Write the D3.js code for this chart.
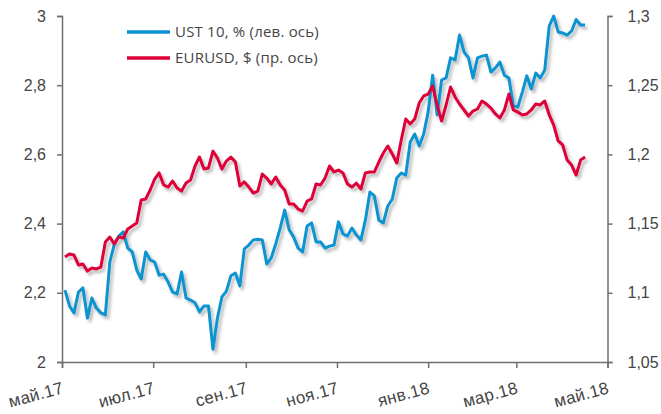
<!DOCTYPE html>
<html>
<head>
<meta charset="utf-8">
<script src="https://cdn.jsdelivr.net/npm/d3@7"></script>
<style>
  html, body { margin: 0; padding: 0; background: #fff; }
  svg { display: block; font-family: "Open Sans", "Noto Sans", sans-serif; }
</style>
</head>
<body>
<div id="chart"></div>
<script>
// UST 10 vs EURUSD, May 2017 - May 2018

const dates = [
  '2017-05-03','2017-05-06','2017-05-09','2017-05-12','2017-05-15','2017-05-18','2017-05-21','2017-05-24','2017-05-27','2017-05-30',
  '2017-06-02','2017-06-05','2017-06-08','2017-06-11','2017-06-14','2017-06-17','2017-06-20','2017-06-23','2017-06-26','2017-06-29',
  '2017-07-02','2017-07-05','2017-07-08','2017-07-11','2017-07-14','2017-07-17','2017-07-20','2017-07-23','2017-07-26','2017-07-29',
  '2017-08-01','2017-08-04','2017-08-07','2017-08-10','2017-08-13','2017-08-16','2017-08-19','2017-08-22','2017-08-25','2017-08-28','2017-08-31',
  '2017-09-03','2017-09-06','2017-09-09','2017-09-12','2017-09-15','2017-09-18','2017-09-21','2017-09-24','2017-09-27','2017-09-30',
  '2017-10-03','2017-10-06','2017-10-09','2017-10-12','2017-10-15','2017-10-18','2017-10-21','2017-10-24','2017-10-27','2017-10-30',
  '2017-11-02','2017-11-05','2017-11-08','2017-11-11','2017-11-14','2017-11-17','2017-11-20','2017-11-23','2017-11-26','2017-11-29',
  '2017-12-02','2017-12-05','2017-12-08','2017-12-11','2017-12-14','2017-12-17','2017-12-20','2017-12-23','2017-12-26','2017-12-29',
  '2018-01-01','2018-01-04','2018-01-07','2018-01-10','2018-01-13','2018-01-16','2018-01-19','2018-01-22','2018-01-25','2018-01-28','2018-01-31',
  '2018-02-03','2018-02-06','2018-02-09','2018-02-12','2018-02-15','2018-02-18','2018-02-21','2018-02-24','2018-02-27',
  '2018-03-02','2018-03-05','2018-03-08','2018-03-11','2018-03-14','2018-03-17','2018-03-20','2018-03-23','2018-03-26','2018-03-29',
  '2018-04-01','2018-04-04','2018-04-07','2018-04-10','2018-04-13','2018-04-16'
];

// UST 10, % (left axis)
const ust10 = [
  2.208, 2.162, 2.142, 2.202, 2.214, 2.127, 2.185, 2.156, 2.142, 2.136,
  2.289, 2.341, 2.364, 2.376, 2.329, 2.318, 2.266, 2.240, 2.318, 2.295,
  2.289, 2.251, 2.254, 2.231, 2.202, 2.197, 2.260, 2.185, 2.179, 2.171,
  2.145, 2.162, 2.162, 2.037, 2.127, 2.188, 2.205, 2.249, 2.257, 2.220, 2.327,
  2.338, 2.353, 2.355, 2.353, 2.283, 2.301, 2.341, 2.387, 2.439, 2.382,
  2.361, 2.329, 2.318, 2.393, 2.402, 2.347, 2.347, 2.329, 2.335, 2.338,
  2.405, 2.370, 2.364, 2.387, 2.367, 2.353, 2.410, 2.491, 2.480, 2.410,
  2.402, 2.451, 2.471, 2.532, 2.546, 2.540, 2.636, 2.659, 2.624, 2.659,
  2.723, 2.829, 2.714, 2.815, 2.821, 2.879, 2.873, 2.945, 2.896, 2.879, 2.821,
  2.879, 2.884, 2.887, 2.838, 2.850, 2.867, 2.829, 2.821, 2.740,
  2.737, 2.780, 2.827, 2.789, 2.835, 2.821, 2.844, 2.971, 3.000, 2.954,
  2.951, 2.945, 2.957, 2.990, 2.974, 2.974
];

// EURUSD, $ (right axis)
const eurusd = [
  1.1259, 1.1280, 1.1273, 1.1201, 1.1208, 1.1157, 1.1179, 1.1172, 1.1186, 1.1367,
  1.1403, 1.1353, 1.1403, 1.1396, 1.1461, 1.1483, 1.1504, 1.1670, 1.1678, 1.1743,
  1.1822, 1.1866, 1.1779, 1.1764, 1.1808, 1.1757, 1.1735, 1.1793, 1.1815, 1.1916,
  1.1981, 1.1894, 1.1902, 1.2024, 1.1974, 1.1894, 1.1952, 1.1981, 1.1945, 1.1772, 1.1801,
  1.1764, 1.1721, 1.1735, 1.1858, 1.1829, 1.1786, 1.1837, 1.1779, 1.1743, 1.1642,
  1.1642, 1.1605, 1.1591, 1.1663, 1.1678, 1.1786, 1.1779, 1.1829, 1.1916, 1.1873,
  1.1887, 1.1866, 1.1786, 1.1764, 1.1793, 1.1750, 1.1866, 1.1873, 1.1873, 1.1945,
  1.2010, 1.2061, 1.2003, 1.1938, 1.2104, 1.2256, 1.2220, 1.2256, 1.2371, 1.2422,
  1.2436, 1.2494, 1.2357, 1.2241, 1.2357, 1.2487, 1.2415, 1.2364, 1.2321, 1.2277, 1.2313,
  1.2328, 1.2386, 1.2364, 1.2335, 1.2292, 1.2263, 1.2321, 1.2436, 1.2321,
  1.2306, 1.2285, 1.2292, 1.2321, 1.2364, 1.2357, 1.2386, 1.2285, 1.2212, 1.2097,
  1.2068, 1.1959, 1.1923, 1.1851, 1.1959, 1.1981
];

const xTickDates = ['2017-05-01','2017-07-01','2017-09-01','2017-11-01','2018-01-01','2018-03-01','2018-05-01'];
const xTickLabels = ['май.17','июл.17','сен.17','ноя.17','янв.18','мар.18','май.18'];
const leftTicks = [2, 2.2, 2.4, 2.6, 2.8, 3];
const rightTicks = [1.05, 1.1, 1.15, 1.2, 1.25, 1.3];
const seriesNames = ['UST 10, % (лев. ось)', 'EURUSD, $ (пр. ось)'];

const width = 661;
const height = 414;
const margin = { top: 16, right: 53.5, bottom: 52, left: 62 };

const blue = '#0a93d0';
const red = '#de0039';
const axisColor = '#6f6f6f';
const textColor = '#454545';

const parse = d3.timeParse('%Y-%m-%d');
const comma = v => String(v).replace('.', ',');

const svg = d3.select('#chart').append('svg')
  .attr('width', width)
  .attr('height', height);

// soft shadow under the lines, like the Excel effect
const defs = svg.append('defs');
const shadow = defs.append('filter')
  .attr('id', 'shadow')
  .attr('x', '-5%').attr('y', '-10%')
  .attr('width', '115%').attr('height', '130%');
shadow.append('feDropShadow')
  .attr('dx', 2.5).attr('dy', 3)
  .attr('stdDeviation', 1.6)
  .attr('flood-color', '#000')
  .attr('flood-opacity', 0.28);

// Scales
const x = d3.scaleTime()
  .domain([parse(xTickDates[0]), parse(xTickDates[xTickDates.length - 1])])
  .range([margin.left, width - margin.right]);

const yLeft = d3.scaleLinear()
  .domain([leftTicks[0], leftTicks[leftTicks.length - 1]])
  .range([height - margin.bottom, margin.top]);

const yRight = d3.scaleLinear()
  .domain([rightTicks[0], rightTicks[rightTicks.length - 1]])
  .range([height - margin.bottom, margin.top]);

// Axes
const xAxis = d3.axisBottom(x)
  .tickValues(xTickDates.map(parse))
  .tickSize(6)
  .tickFormat((d, i) => xTickLabels[i]);

const leftAxis = d3.axisLeft(yLeft)
  .tickValues(leftTicks)
  .tickSize(5)
  .tickPadding(11)
  .tickFormat(comma);

const rightAxis = d3.axisRight(yRight)
  .tickValues(rightTicks)
  .tickSize(5)
  .tickPadding(15)
  .tickFormat(comma);

const gx = svg.append('g')
  .attr('transform', `translate(0, ${height - margin.bottom})`)
  .call(xAxis);

gx.selectAll('text')
  .attr('text-anchor', 'end')
  .attr('dy', null)
  .attr('y', 0)
  .attr('transform', 'translate(2, 31) rotate(-15)');

svg.append('g')
  .attr('transform', `translate(${margin.left}, 0)`)
  .call(leftAxis);

svg.append('g')
  .attr('transform', `translate(${width - margin.right}, 0)`)
  .call(rightAxis);

svg.selectAll('.domain')
  .attr('stroke', axisColor)
  .attr('stroke-width', 1.5);

svg.selectAll('.tick line')
  .attr('stroke', axisColor)
  .attr('stroke-width', 1.5);

svg.selectAll('.tick text')
  .attr('fill', textColor)
  .style('font-size', '16px');

gx.selectAll('.tick text')
  .style('font-size', '17px')
  .style('letter-spacing', '0.3px');

// Lines
const ustData = dates.map((d, i) => ({ date: parse(d), value: ust10[i] }));
const eurData = dates.map((d, i) => ({ date: parse(d), value: eurusd[i] }));

const lineLeft = d3.line()
  .x(d => x(d.date))
  .y(d => yLeft(d.value));

const lineRight = d3.line()
  .x(d => x(d.date))
  .y(d => yRight(d.value));

const linesGroup = svg.append('g').attr('filter', 'url(#shadow)');

linesGroup.append('path')
  .datum(ustData)
  .attr('fill', 'none')
  .attr('stroke', blue)
  .attr('stroke-width', 3)
  .attr('stroke-linejoin', 'round')
  .attr('d', lineLeft);

linesGroup.append('path')
  .datum(eurData)
  .attr('fill', 'none')
  .attr('stroke', red)
  .attr('stroke-width', 3)
  .attr('stroke-linejoin', 'round')
  .attr('d', lineRight);

// Legend
const legend = svg.append('g')
  .attr('transform', 'translate(127, 32)');

const legendItems = legend.selectAll('g')
  .data([{ name: seriesNames[0], color: blue }, { name: seriesNames[1], color: red }])
  .enter()
  .append('g')
  .attr('transform', (d, i) => `translate(0, ${i * 26})`);

legendItems.append('line')
  .attr('x1', 0)
  .attr('x2', 43)
  .attr('stroke', d => d.color)
  .attr('stroke-width', 3.5);

legendItems.append('text')
  .attr('x', 48)
  .attr('dy', '0.35em')
  .attr('fill', textColor)
  .style('font-size', '15px')
  .style('letter-spacing', '0.2px')
  .text(d => d.name);
</script>
</body>
</html>
